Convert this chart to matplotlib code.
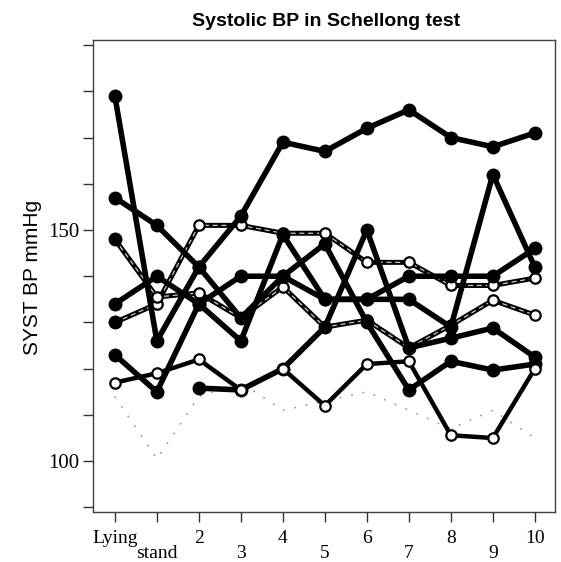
import numpy as np
import matplotlib
matplotlib.use('Agg')
import matplotlib.pyplot as plt

# measurement points (Lying, stand, 2..10)
steps = ['Lying', 'stand', '2', '3', '4', '5', '6', '7', '8', '9', '10']

# subjects drawn with solid black lines and filled dots
subj_a = [179, 126, 142, 153, 169, 167, 172, 176, 170, 168, 171]
subj_b = [157, 151, 142, 131, 140, 147, 130, 115.4, 121.6, 119.7, 121]
subj_c = [134, 140, 134, 126, 149, 135, 135, 135, 129, 162, 142]
subj_d = [123, 115, 134, 140, 140, 135, 135, 140, 140, 140, 146]
subj_e = [np.nan, np.nan, 115.8, 115.4, 120, 129, 150, 124.5, 126.6, 128.8, 122.5]

# subjects that came out grey / hatched in the print
subj_f = [130, 134, 151, 151, 149.3, 149.3, 143, 143, 138, 138, 139.6]
subj_g = [148, 135.5, 136.4, 131, 137.7, 129, 130.5, 124.5, 129.4, 134.8, 131.6]

# open circles with a dark line
subj_h = [117, 119, 122, 115.4, 120, 112, 121, 121.6, 105.6, 105, 120]

# very faint subject
subj_i = [114, 100.5, 114, 117, 111, 113, 115, 111, 107, 111, 105]

x = np.arange(len(steps))

fig = plt.figure(figsize=(5.61, 5.62), dpi=100)
ax = fig.add_axes([93 / 561, 50 / 562, 462 / 561, 472 / 562])

# faint one first
ax.plot(x, subj_i, color='0.6', lw=1.2, ls=(0, (1, 6)), zorder=1)

# hatched grey lines: black base with white dashes on top
for s in [subj_f, subj_g]:
    ax.plot(x, s, color='black', lw=3.6, zorder=2)
    ax.plot(x, s, color='white', lw=0.9, ls=(0, (4, 3)), alpha=0.8, zorder=3)
    ax.plot(x, s, ls='none', marker='o', ms=7.5, mfc='white', mec='black', mew=1.6, zorder=4)
    # first dot printed dark
    ax.plot(x[:1], s[:1], ls='none', marker='o', ms=9, mfc='black', mec='black', zorder=4)

# black subjects
for s in [subj_a, subj_b, subj_c, subj_d, subj_e]:
    ax.plot(x, s, color='black', lw=4, marker='o', ms=9, mfc='black', mec='black', zorder=5)

# open circle subject
ax.plot(x, subj_h, color='black', lw=3.2, zorder=6)
ax.plot(x, subj_h, ls='none', marker='o', ms=7.5, mfc='white', mec='black', mew=1.6, zorder=7)

ax.set_xlim(-0.52, 10.48)
ax.set_ylim(89, 191.1)

ax.set_xticks(x)
ax.set_xticklabels([lab if i % 2 == 0 else '\n' + lab for i, lab in enumerate(steps)],
                   family='Liberation Serif', fontsize=14, linespacing=0.85)
yt = list(range(90, 191, 10))
ax.set_yticks(yt)
ax.set_yticklabels([str(v) if v in (100, 150) else '' for v in yt],
                   family='Liberation Serif', fontsize=15)
ax.tick_params(axis='both', direction='out', length=7, width=1, color='0.2')
ax.tick_params(axis='x', pad=6)
ax.tick_params(axis='y', pad=3)

for sp in ax.spines.values():
    sp.set_linewidth(1)
    sp.set_color('0.25')

fig.text(326 / 561, 1 - 22 / 562, 'Systolic BP in Schellong test', ha='center', va='center',
         family='Liberation Sans', fontsize=14, fontweight='bold')
fig.text(33 / 561, 1 - 277 / 562, 'SYST BP mmHg', ha='center', va='center', rotation=90,
         family='Liberation Sans', fontsize=15)

fig.savefig('out.png', dpi=100)
